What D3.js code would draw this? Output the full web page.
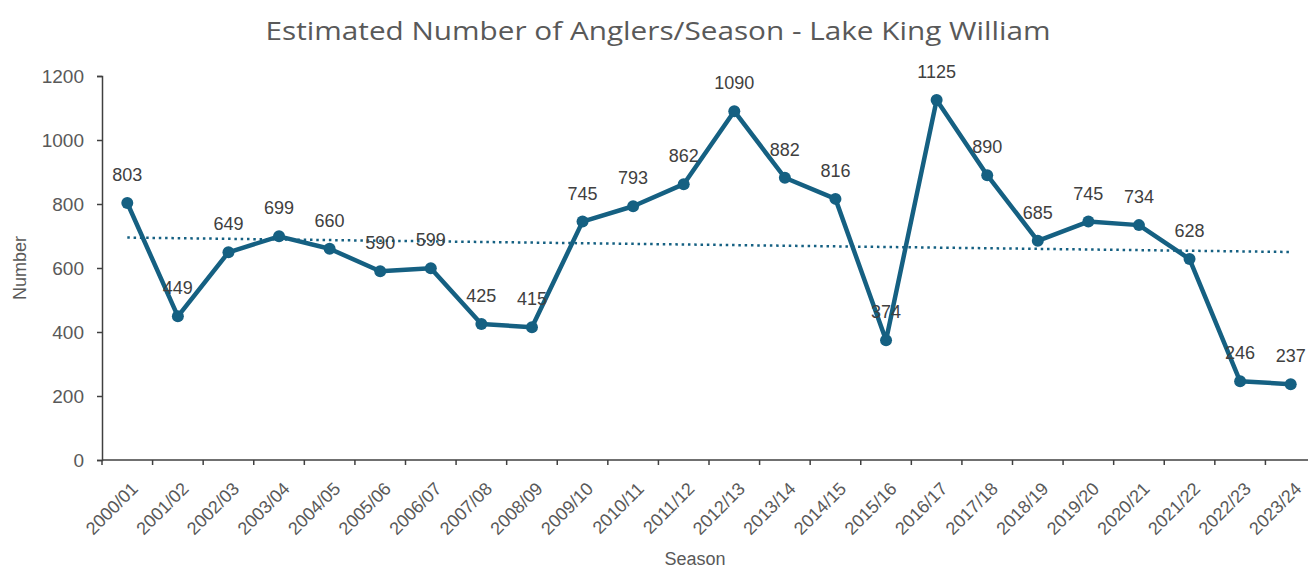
<!DOCTYPE html>
<html>
<head>
<meta charset="utf-8">
<script src="https://cdn.jsdelivr.net/npm/d3@7"></script>
<style>
  html, body { margin: 0; padding: 0; background: #fff; }
  svg { display: block; font-family: "Liberation Sans", Arial, sans-serif; }
</style>
</head>
<body>
<svg id="chart" width="1308" height="571"></svg>
<script>
// Season labels and estimated angler counts
const seasons = ["2000/01","2001/02","2002/03","2003/04","2004/05","2005/06","2006/07","2007/08",
  "2008/09","2009/10","2010/11","2011/12","2012/13","2013/14","2014/15","2015/16","2016/17",
  "2017/18","2018/19","2019/20","2020/21","2021/22","2022/23","2023/24"];
const anglers = [803,449,649,699,660,590,599,425,415,745,793,862,1090,882,816,374,1125,890,685,745,734,628,246,237];
const yTicks = [0,200,400,600,800,1000,1200];

const titleText = "Estimated Number of Anglers/Season - Lake King William";
const xTitle = "Season";
const yTitle = "Number";

const svg = d3.select("#chart");
const plotLeft = 102, plotRight = 1316, plotTop = 76, plotBottom = 460;
const lineColor = "#156082";
const textColor = "#595959";

const x = d3.scaleBand().domain(seasons).range([plotLeft, plotRight]).paddingInner(0).paddingOuter(0);
const cx = d => x(d) + x.bandwidth() / 2;
const y = d3.scaleLinear().domain([0, 1200]).range([plotBottom, plotTop]);

// Title
svg.append("text")
  .attr("x", 658).attr("y", 40)
  .attr("text-anchor", "middle")
  .attr("fill", textColor)
  .style("font-family", "'Open Sans', 'Liberation Sans', sans-serif")
  .style("font-size", "25px")
  .attr("textLength", 785).attr("lengthAdjust", "spacingAndGlyphs")
  .text(titleText);

// Y axis
const yAxis = svg.append("g")
  .attr("transform", `translate(${plotLeft},0)`)
  .call(d3.axisLeft(y).tickValues(yTicks).tickSize(5).tickPadding(13).tickFormat(d3.format("d")));
yAxis.select(".domain").attr("stroke", "#404040").attr("stroke-width", 1.5);
yAxis.selectAll(".tick line").attr("stroke", "#404040").attr("stroke-width", 1.5);
yAxis.selectAll(".tick text").attr("fill", textColor).style("font-size", "19px");

// X axis: ticks sit on the band boundaries
const xAxisG = svg.append("g").attr("transform", `translate(0,${plotBottom})`);
xAxisG.append("line")
  .attr("x1", plotLeft).attr("x2", plotRight).attr("y1", 0).attr("y2", 0)
  .attr("stroke", "#404040").attr("stroke-width", 1.5);
xAxisG.selectAll(".xtick").data(seasons).join("line")
  .attr("class", "xtick")
  .attr("x1", d => x(d)).attr("x2", d => x(d))
  .attr("y1", 0).attr("y2", 5)
  .attr("stroke", "#404040").attr("stroke-width", 1.5);
xAxisG.selectAll(".xlabel").data(seasons).join("text")
  .attr("class", "xlabel")
  .attr("transform", d => `translate(${cx(d) + 3},${21}) rotate(-45)`)
  .attr("text-anchor", "end")
  .attr("dy", "0.7em")
  .attr("fill", textColor)
  .style("font-size", "18px")
  .text(d => d);

// Axis titles
svg.append("text")
  .attr("x", 695).attr("y", 565)
  .attr("text-anchor", "middle").attr("fill", textColor)
  .style("font-size", "18px")
  .text(xTitle);
svg.append("text")
  .attr("transform", `translate(26,${268}) rotate(-90)`)
  .attr("text-anchor", "middle").attr("fill", textColor)
  .style("font-size", "18px")
  .text(yTitle);

// Linear trend line (least squares over the season index)
const n = anglers.length;
const xs = d3.range(n);
const mx = d3.mean(xs), my = d3.mean(anglers);
const slope = d3.sum(xs, i => (i - mx) * (anglers[i] - my)) / d3.sum(xs, i => (i - mx) ** 2);
const icept = my - slope * mx;
svg.append("line")
  .attr("x1", cx(seasons[0])).attr("y1", y(icept))
  .attr("x2", cx(seasons[n - 1])).attr("y2", y(icept + slope * (n - 1)))
  .attr("stroke", lineColor).attr("stroke-width", 2.5)
  .attr("stroke-dasharray", "2.5 3.8");

// Data line
const line = d3.line().x((d, i) => cx(seasons[i])).y(d => y(d));
svg.append("path")
  .datum(anglers)
  .attr("d", line)
  .attr("fill", "none")
  .attr("stroke", lineColor)
  .attr("stroke-width", 4.5)
  .attr("stroke-linejoin", "round");

// Markers
svg.selectAll(".pt").data(anglers).join("circle")
  .attr("class", "pt")
  .attr("cx", (d, i) => cx(seasons[i]))
  .attr("cy", d => y(d))
  .attr("r", 6)
  .attr("fill", lineColor);

// Value labels
svg.selectAll(".val").data(anglers).join("text")
  .attr("class", "val")
  .attr("x", (d, i) => cx(seasons[i]))
  .attr("y", d => y(d) - 22)
  .attr("text-anchor", "middle")
  .attr("fill", "#404040")
  .style("font-size", "18px")
  .text(d => d);
</script>
</body>
</html>
